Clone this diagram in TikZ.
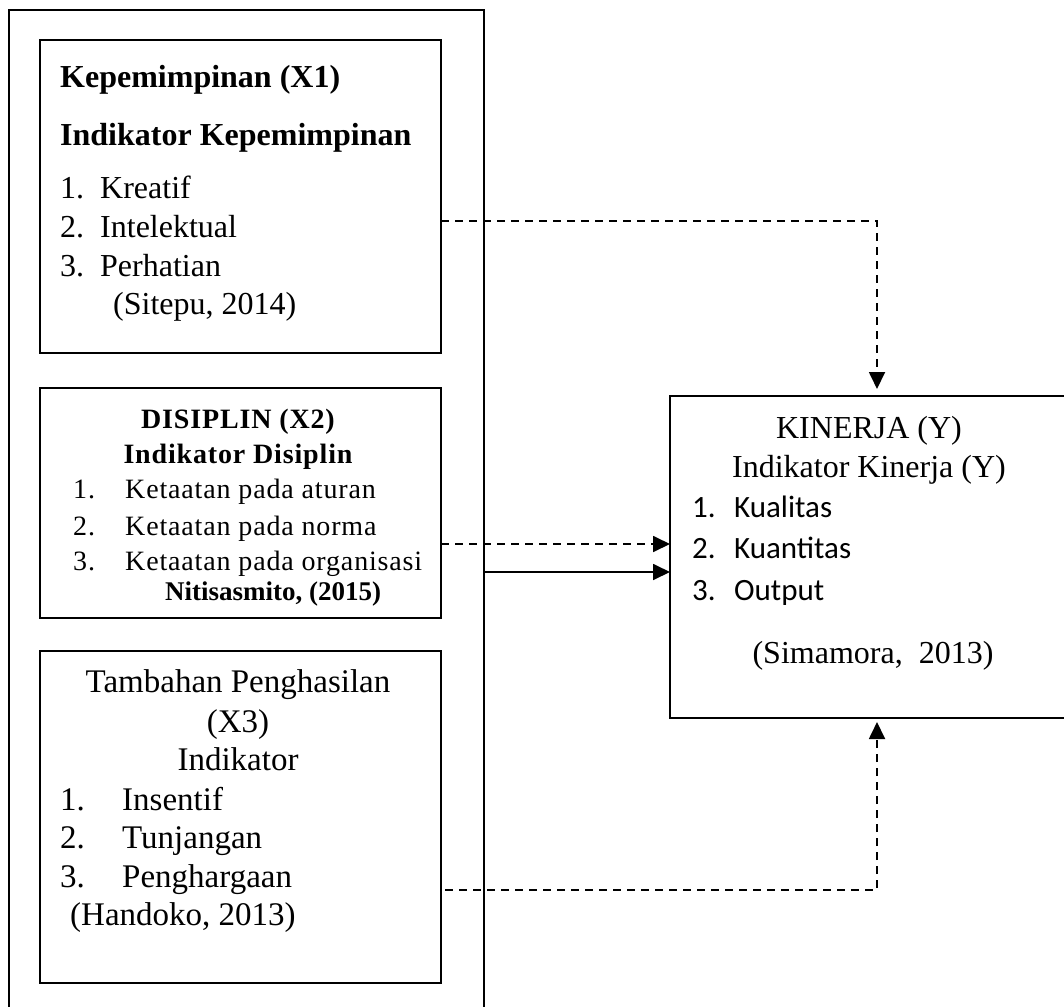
\documentclass[tikz,border=0pt]{standalone}
\usepackage{fontspec}
\setmainfont{Liberation Serif}
\newfontfamily\calib{Carlito}
\newfontfamily\spaced[LetterSpace=3]{Liberation Serif}
\usetikzlibrary{arrows.meta}
\newcommand{\fsA}{\fontsize{32pt}{38pt}\selectfont}
\newcommand{\fsB}{\spaced\fontsize{28pt}{32pt}\selectfont}
\newcommand{\fsC}{\fontsize{33pt}{38pt}\selectfont}
\newcommand{\fsD}{\calib\fontsize{31pt}{36pt}\selectfont}
\begin{document}
\begin{tikzpicture}[x=1pt,y=-1pt,
  boxnode/.style={draw, line width=1.8pt, inner sep=0pt, outer sep=0pt, anchor=north west},
  txt/.style={anchor=base west, inner sep=0pt},
  ctxt/.style={anchor=base, inner sep=0pt},
  conn/.style={line width=1.8pt, -{Triangle[length=17pt,width=16pt]}},
  dconn/.style={conn, dash pattern=on 8pt off 6pt}]
\useasboundingbox (0,0) rectangle (1064,1006);
\clip (0,0) rectangle (1064,1006);
\fill[white] (0,0) rectangle (1064,1006);
% boxes
\node[boxnode, minimum width=475pt, minimum height=1040pt] (outer) at (9,10) {};
\node[boxnode, minimum width=401pt, minimum height=313pt] (x1) at (40,40) {};
\node[boxnode, minimum width=401pt, minimum height=230pt] (x2) at (40,388) {};
\node[boxnode, minimum width=401pt, minimum height=332pt] (x3) at (40,651) {};
\node[boxnode, minimum width=414pt, minimum height=322pt] (ky) at (670,396) {};
% X1 texts
\node[txt] (x1a) at (60,88) {\fsA\bfseries Kepemimpinan (X1)};
\node[txt] (x1b) at (60,145) {\fsA\bfseries Indikator Kepemimpinan};
\node[txt] (x1c) at (60,198) {\fsA\makebox[40pt][l]{1.}Kreatif};
\node[txt] (x1d) at (60,237) {\fsA\makebox[40pt][l]{2.}Intelektual};
\node[txt] (x1e) at (60,276) {\fsA\makebox[40pt][l]{3.}Perhatian};
\node[txt] (x1f) at (113,314) {\fsA(Sitepu, 2014)};
% X2 texts
\node[ctxt] (x2a) at (238,428) {\fsB\bfseries DISIPLIN (X2)};
\node[ctxt] (x2b) at (238,463) {\fsB\bfseries Indikator Disiplin};
\node[txt] (x2c) at (73,498) {\fsB\makebox[52pt][l]{1.}Ketaatan pada aturan};
\node[txt] (x2d) at (73,535) {\fsB\makebox[52pt][l]{2.}Ketaatan pada norma};
\node[txt] (x2e) at (73,570) {\fsB\makebox[52pt][l]{3.}Ketaatan pada organisasi};
\node[txt] (x2f) at (165,600) {\fontsize{27pt}{30pt}\selectfont\bfseries Nitisasmito, (2015)};
% X3 texts
\node[ctxt] (x3a) at (238,692) {\fsC Tambahan Penghasilan};
\node[ctxt] (x3b) at (238,732) {\fsC (X3)};
\node[ctxt] (x3c) at (238,770) {\fsC Indikator};
\node[txt] (x3d) at (60,810) {\fsC\makebox[62pt][l]{1.}Insentif};
\node[txt] (x3e) at (60,848) {\fsC\makebox[62pt][l]{2.}Tunjangan};
\node[txt] (x3f) at (60,887) {\fsC\makebox[62pt][l]{3.}Penghargaan};
\node[txt] (x3g) at (70,925) {\fsC(Handoko, 2013)};
% Y texts
\node[ctxt] (ya) at (869,438) {\fsA KINERJA (Y)};
\node[ctxt] (yb) at (869,477) {\fsA Indikator Kinerja (Y)};
\node[txt] (yc) at (692,517) {\fsD\makebox[42pt][l]{1.}Kualitas};
\node[txt] (yd) at (692,558) {\fsD\makebox[42pt][l]{2.}Kuantitas};
\node[txt] (ye) at (692,600) {\fsD\makebox[42pt][l]{3.}Output};
\node[ctxt] (yf) at (873,663) {\fsA(Simamora,~~2013)};
% connectors
\draw[dconn, shorten >=7pt] (x1.east |- 0,221) -| (ky.north);
\draw[dconn] (x2.east |- 0,544) -- (ky.west |- 0,544);
\draw[conn] (outer.east |- 0,572) -- (ky.west |- 0,572);
\draw[dconn, shorten >=4pt] ([xshift=4pt]x3.east |- 0,890) -| (ky.south);
\end{tikzpicture}
\end{document}
